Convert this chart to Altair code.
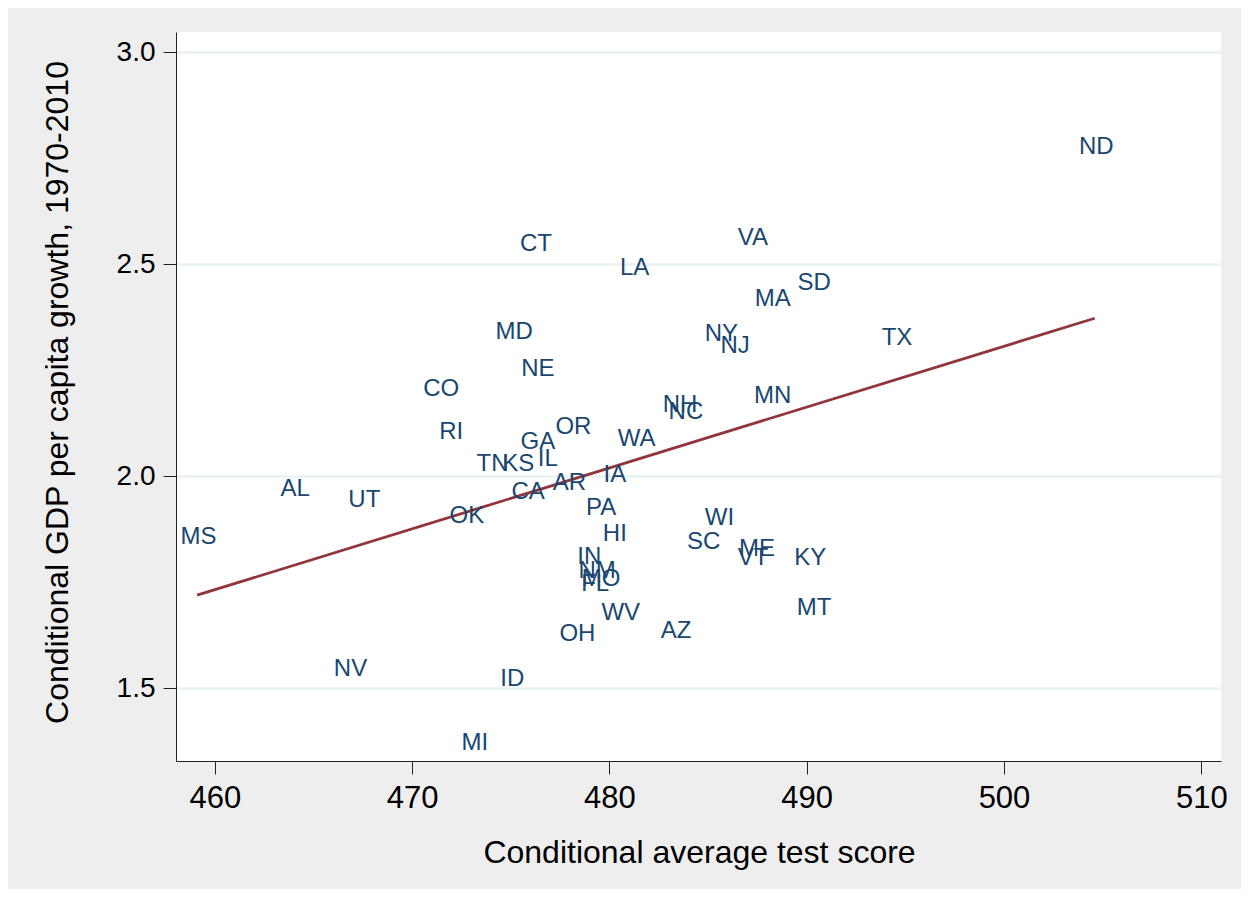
import altair as alt
import pandas as pd

states = ["ND", "VA", "CT", "LA", "SD", "MA", "MD", "NY", "NJ", "TX",
          "NE", "CO", "MN", "NH", "NC", "RI", "OR", "GA", "WA", "IL",
          "TN", "KS", "IA", "AL", "AR", "CA", "UT", "PA", "OK", "WI",
          "MS", "HI", "SC", "ME", "VT", "KY", "IN", "NM", "MO", "FL",
          "WV", "MT", "OH", "AZ", "NV", "ID", "MI"]
test_score = [504.6, 487.2, 476.2, 481.2, 490.3, 488.2, 475.1, 485.6, 486.3, 494.5,
              476.3, 471.4, 488.2, 483.5, 483.8, 471.9, 478.1, 476.3, 481.3, 476.8,
              474.0, 475.3, 480.2, 464.0, 477.9, 475.8, 467.5, 479.5, 472.7, 485.5,
              459.1, 480.2, 484.7, 487.4, 487.2, 490.1, 478.9, 479.3, 479.5, 479.2,
              480.5, 490.3, 478.3, 483.3, 466.8, 475.0, 473.1]
gdp_growth = [2.779, 2.564, 2.550, 2.494, 2.458, 2.420, 2.343, 2.338, 2.310, 2.329,
              2.255, 2.208, 2.191, 2.171, 2.154, 2.107, 2.119, 2.083, 2.091, 2.043,
              2.031, 2.031, 2.005, 1.972, 1.987, 1.965, 1.946, 1.927, 1.908, 1.904,
              1.859, 1.866, 1.847, 1.831, 1.810, 1.810, 1.813, 1.780, 1.760, 1.748,
              1.680, 1.692, 1.630, 1.637, 1.548, 1.524, 1.373]

fit_x = [459.1, 504.6]
fit_y = [1.720, 2.373]

x_ticks = [460, 470, 480, 490, 500, 510]
y_ticks = [1.5, 2.0, 2.5, 3.0]

pts = pd.DataFrame({"state": states, "score": test_score, "growth": gdp_growth})
fit = pd.DataFrame({"score": fit_x, "growth": fit_y})

FONT = "Liberation Sans"
xscale = alt.Scale(domain=[458.03, 511.0], nice=False, zero=False)
yscale = alt.Scale(domain=[1.329, 3.048], nice=False, zero=False)

xaxis = alt.Axis(values=x_ticks, title="Conditional average test score", grid=False,
                 tickSize=13, tickColor="#222222", domainColor="#222222",
                 labelFontSize=31, labelPadding=9, labelColor="#000000",
                 labelFont=FONT, titleFont=FONT, titleFontSize=32,
                 titleFontWeight="normal", titleColor="#000000",
                 titleX=523, titleY=91, titleBaseline="middle", format="d")
yaxis = alt.Axis(values=y_ticks, title="Conditional GDP per capita growth, 1970-2010",
                 grid=True, gridColor="#eaf2f3", gridWidth=2.5,
                 tickSize=13, tickColor="#222222", domainColor="#222222",
                 labelFontSize=28, labelPadding=8, labelColor="#000000",
                 labelFont=FONT, titleFont=FONT, titleFontSize=32,
                 titleFontWeight="normal", titleColor="#000000", format=".1f",
                 titleX=-119, titleY=360, titleAngle=-90, titleBaseline="middle")

line = alt.Chart(fit).mark_line(color="#90353b", strokeWidth=2.8).encode(
    x=alt.X("score:Q", scale=xscale, axis=xaxis),
    y=alt.Y("growth:Q", scale=yscale, axis=yaxis),
)

labels = alt.Chart(pts).mark_text(
    font=FONT, fontSize=24, color="#1a476f", align="center", baseline="middle",
    dx=1.5, dy=1
).encode(
    x=alt.X("score:Q", scale=xscale),
    y=alt.Y("growth:Q", scale=yscale),
    text="state:N",
)

chart = alt.layer(line, labels).properties(
    width=1045, height=729,
    autosize=alt.AutoSizeParams(type="none"),
    padding={"left": 168, "top": 24, "right": 20, "bottom": 128},
    background="#eeeeee",
).configure_view(fill="#ffffff", stroke=None)

chart.save("out.html", embed_options={"renderer": "svg", "actions": False})
